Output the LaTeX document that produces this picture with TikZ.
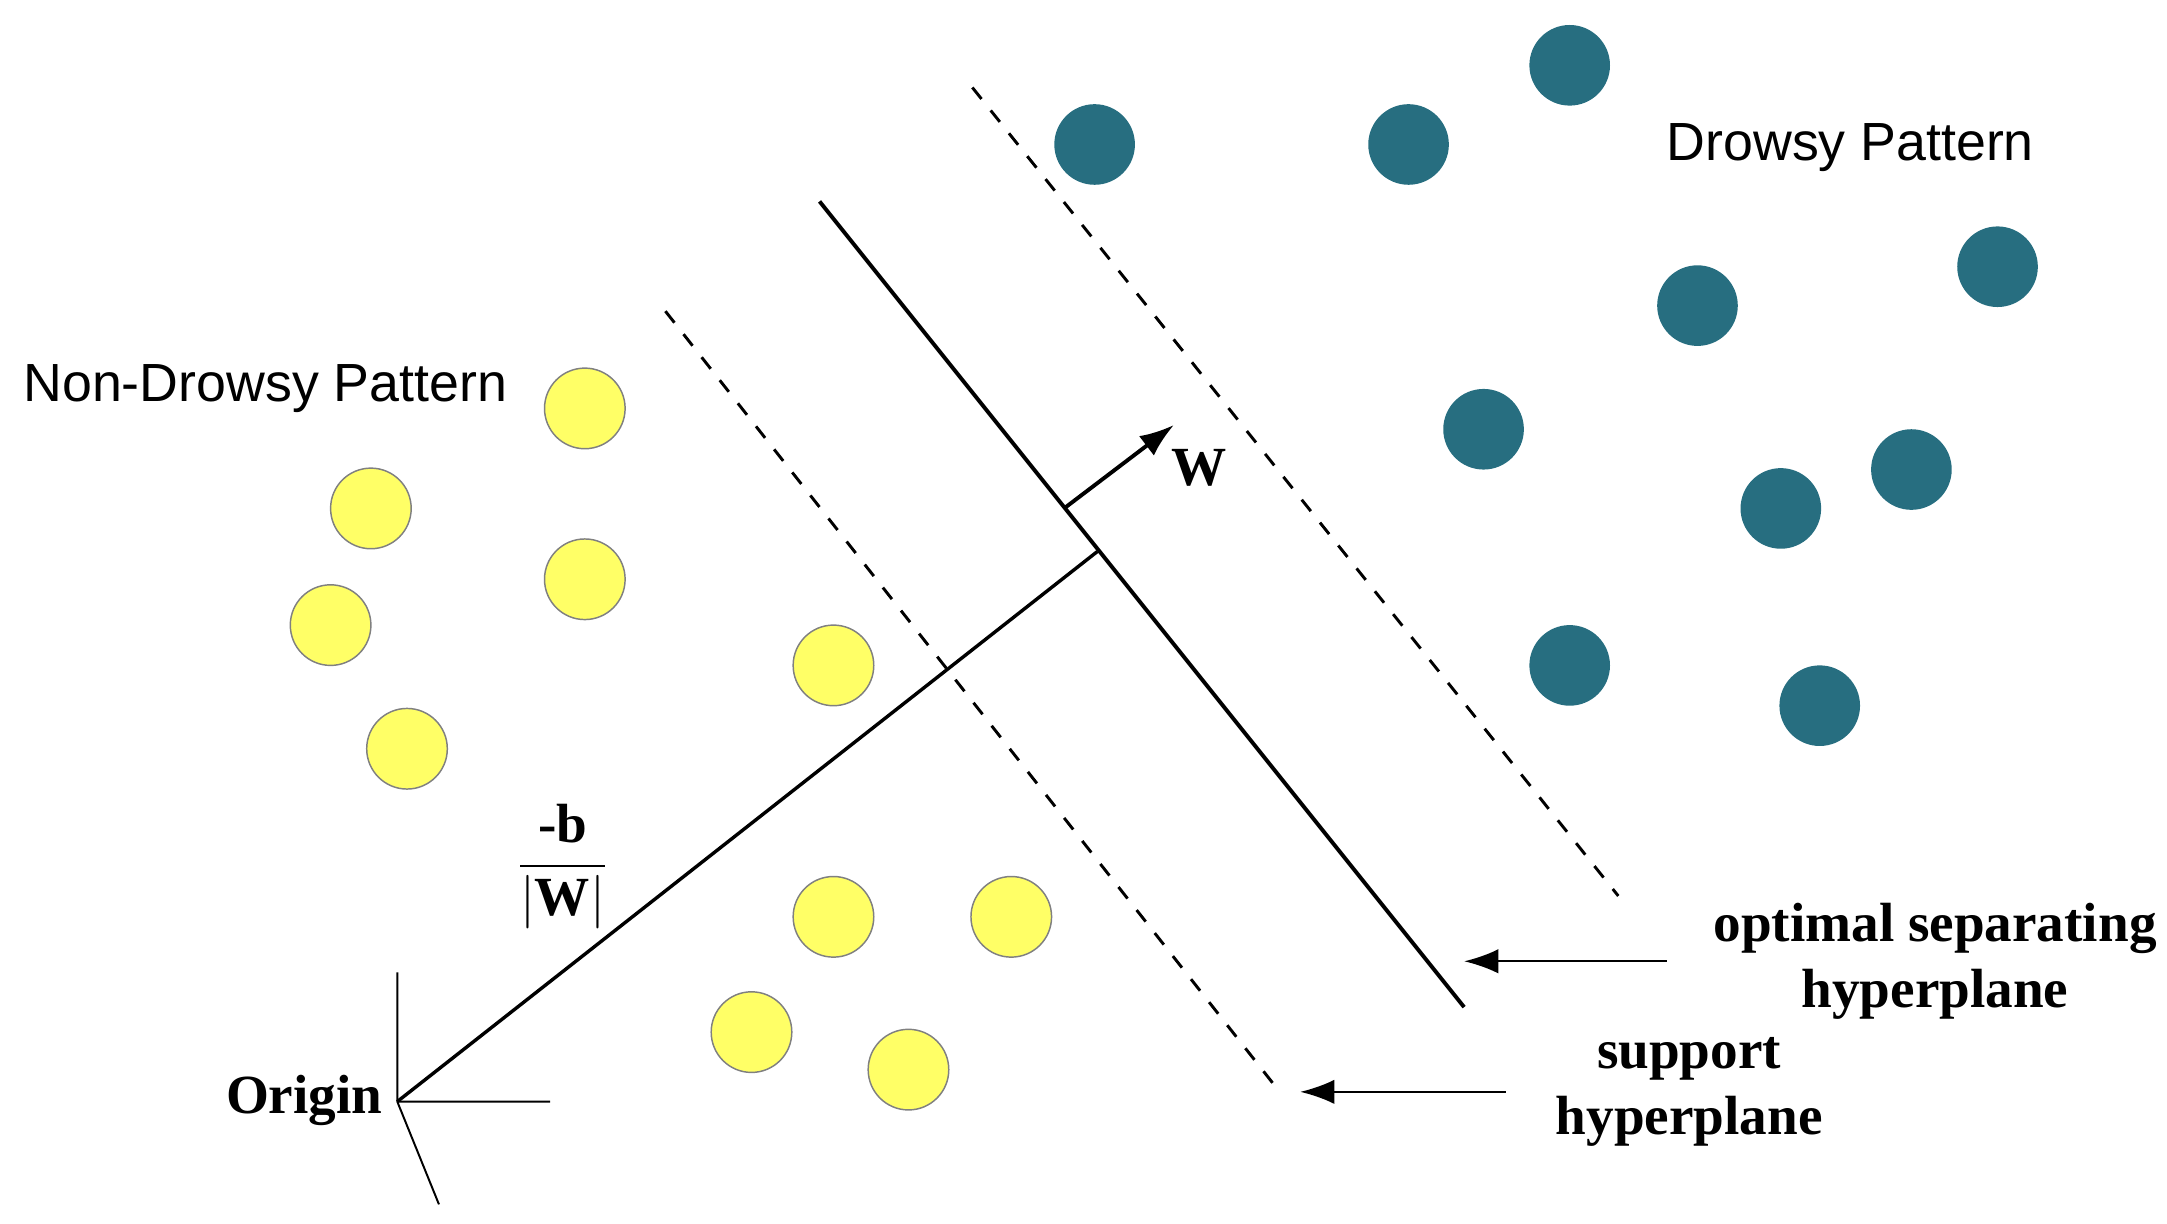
\documentclass[tikz,border=0pt]{standalone}
\usepackage{fontspec}
\setmainfont{Liberation Serif}
\newfontfamily\sansf{Liberation Sans}
\usetikzlibrary{arrows.meta}
\definecolor{teal1}{HTML}{276E80}
\definecolor{yel}{HTML}{FFFF66}
\begin{document}
\begin{tikzpicture}[x=0.01cm,y=-0.01cm,
  blue/.style={circle,fill=teal1,minimum size=0.58cm,inner sep=0},
  yellow/.style={circle,fill=yel,draw=gray,line width=0.3pt,minimum size=0.58cm,inner sep=0},
  lab/.style={font=\bfseries\fontsize{11.3}{13.6}\selectfont,align=center,inner sep=0},
  slab/.style={font=\sansf\fontsize{11}{13}\selectfont,inner sep=0},
  arr/.style={-{Latex[length=7pt,width=5pt]},line width=0.5pt}]
\useasboundingbox (0,0) rectangle (1560,881);
\foreach \x/\y [count=\i] in {788/104,1014/104,1130/47,1438/192,1222/220,1068/309,1376/338,1282/366,1130/479,1310/508}
  \node[blue] (b\i) at (\x,\y) {};
\foreach \x/\y [count=\i] in {421/294,267/366,421/417,238/450,600/479,293/539,600/660,728/660,541/743,654/770}
  \node[yellow] (y\i) at (\x,\y) {};
\coordinate (s1) at (590,145); \coordinate (s2) at (1054,725);
\coordinate (d1) at (700,63); \coordinate (d2) at (1165,645);
\coordinate (e1) at (479,224); \coordinate (e2) at (922,787);
\draw[line width=0.8pt] (s1) -- (s2);
\draw[dashed,line width=0.6pt] (d1) -- (d2);
\draw[dashed,line width=0.6pt] (e1) -- (e2);
\coordinate (O) at (286,793); \coordinate (P) at (790,397);
\coordinate (ax1) at (286,700); \coordinate (ax2) at (396,793); \coordinate (ax3) at (316,867);
\draw[line width=0.7pt] (O) -- (P);
\draw[line width=0.4pt] (O) -- (ax1) (O) -- (ax2) (O) -- (ax3);
\coordinate (w0) at (766,366); \coordinate (w1) at (845,306);
\draw[arr,line width=0.8pt] (w0) -- (w1);
\node[lab] (W) at (863,337) {W};
\node[lab] (frac) at (405,624) {$\displaystyle\frac{\textbf{-b}}{|\textbf{W}|}$};
\node[lab] (orig) at (219,792) {Origin};
\node[lab] (opt) at (1393,692) {optimal separating\\hyperplane};
\node[lab] (sup) at (1216,786) {support\\hyperplane};
\coordinate (a1) at (1200,692); \coordinate (a2) at (1054,692);
\coordinate (a3) at (1084,786); \coordinate (a4) at (936,786);
\draw[arr] (a1) -- (a2);
\draw[arr] (a3) -- (a4);
\node[slab] (nd) at (191,280) {Non-Drowsy Pattern};
\node[slab] (dr) at (1332,106) {Drowsy Pattern};
\end{tikzpicture}
\end{document}
